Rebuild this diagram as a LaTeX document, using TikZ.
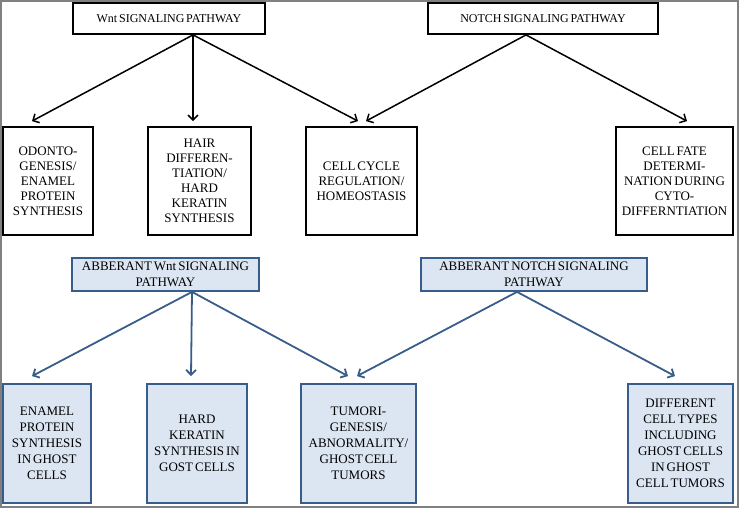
\documentclass[tikz,border=0pt]{standalone}
\usepackage{fontspec}
\setmainfont{Liberation Serif}[WordSpace=0.6]
\usetikzlibrary{arrows.meta,positioning}
\definecolor{abline}{RGB}{56,93,138}
\definecolor{abfill}{RGB}{220,230,242}

\begin{document}
\begin{tikzpicture}[x=1pt,y=-1pt,line width=1.8pt,
    txt/.style={align=center,inner sep=0pt,font=\fontsize{13}{15}\selectfont},
    pathbox/.style={txt,draw=black,minimum height=31,font=\fontsize{12}{14}\selectfont},
    effbox/.style={txt,draw=black,minimum height=108},
    abhead/.style={txt,draw=abline,fill=abfill,minimum height=33,font=\fontsize{13}{16}\selectfont},
    abbox/.style={txt,draw=abline,fill=abfill,minimum height=119,font=\fontsize{13}{16}\selectfont},
    arr/.style={line width=1.5pt,-{Straight Barb[length=5pt,width=10pt]}},
    abarr/.style={arr,draw=abline,line width=1.8pt}]

        \useasboundingbox (0,0) rectangle (739,508);
        \draw[gray,line width=1.5pt] (1,1) rectangle (738,507);

        % normal pathways
        \node[pathbox,minimum width=192] (wnt) at (169,18.5) {Wnt SIGNALING PATHWAY};
        \node[pathbox,minimum width=230] (notch) at (543,18.5) {NOTCH SIGNALING PATHWAY};

        \node[effbox,minimum width=90] (odonto) at (48,181) {ODONTO-\\GENESIS/\\ENAMEL\\PROTEIN\\SYNTHESIS};
        \node[effbox,minimum width=103] (hair) at (199.5,181) {HAIR\\DIFFEREN-\\TIATION/\\HARD\\KERATIN\\SYNTHESIS};
        \node[effbox,minimum width=111] (cycle) at (361.5,181) {CELL CYCLE\\REGULATION/\\HOMEOSTASIS};
        \node[effbox,minimum width=117] (fate) at (674.5,181) {CELL FATE\\DETERMI-\\NATION DURING\\CYTO-\\DIFFERNTIATION};

        \draw[arr] ([xshift=24]wnt.south) -- ([xshift=-16,yshift=5]odonto.north);
        \draw[arr] ([xshift=24]wnt.south) -- ([xshift=-6.5,yshift=5]hair.north);
        \draw[arr] ([xshift=24]wnt.south) -- ([xshift=-3.5,yshift=5]cycle.north);
        \draw[arr] ([xshift=-17]notch.south) -- ([xshift=4.5,yshift=5]cycle.north);
        \draw[arr] ([xshift=-17]notch.south) -- ([xshift=12.5,yshift=5]fate.north);

        % abberant pathways
        \node[abhead,minimum width=187] (awnt) at (165.5,274.5) {ABBERANT Wnt SIGNALING\\PATHWAY};
        \node[abhead,minimum width=226] (anotch) at (534,274.5) {ABBERANT NOTCH SIGNALING\\PATHWAY};

        \node[abbox,minimum width=88] (enamel) at (47,443.5) {ENAMEL\\PROTEIN\\SYNTHESIS\\IN GHOST\\CELLS};
        \node[abbox,minimum width=100] (keratin) at (197,443.5) {HARD\\KERATIN\\SYNTHESIS IN\\GOST CELLS};
        \node[abbox,minimum width=115] (tumor) at (358.5,443.5) {TUMORI-\\GENESIS/\\ABNORMALITY/\\GHOST CELL\\TUMORS};
        \node[abbox,minimum width=105] (types) at (680.5,443.5) {DIFFERENT\\CELL TYPES\\INCLUDING\\GHOST CELLS\\IN GHOST\\CELL TUMORS};

        \draw[abarr] ([xshift=26.5]awnt.south) -- ([xshift=-15,yshift=7]enamel.north);
        \draw[abarr] ([xshift=26.5]awnt.south) -- ([xshift=-6,yshift=7]keratin.north);
        \draw[abarr] ([xshift=26.5]awnt.south) -- ([xshift=-10.5,yshift=7]tumor.north);
        \draw[abarr] ([xshift=-17]anotch.south) -- ([xshift=-1.5,yshift=7]tumor.north);
        \draw[abarr] ([xshift=-17]anotch.south) -- ([xshift=-5.5,yshift=7]types.north);

      \end{tikzpicture}
\end{document}
